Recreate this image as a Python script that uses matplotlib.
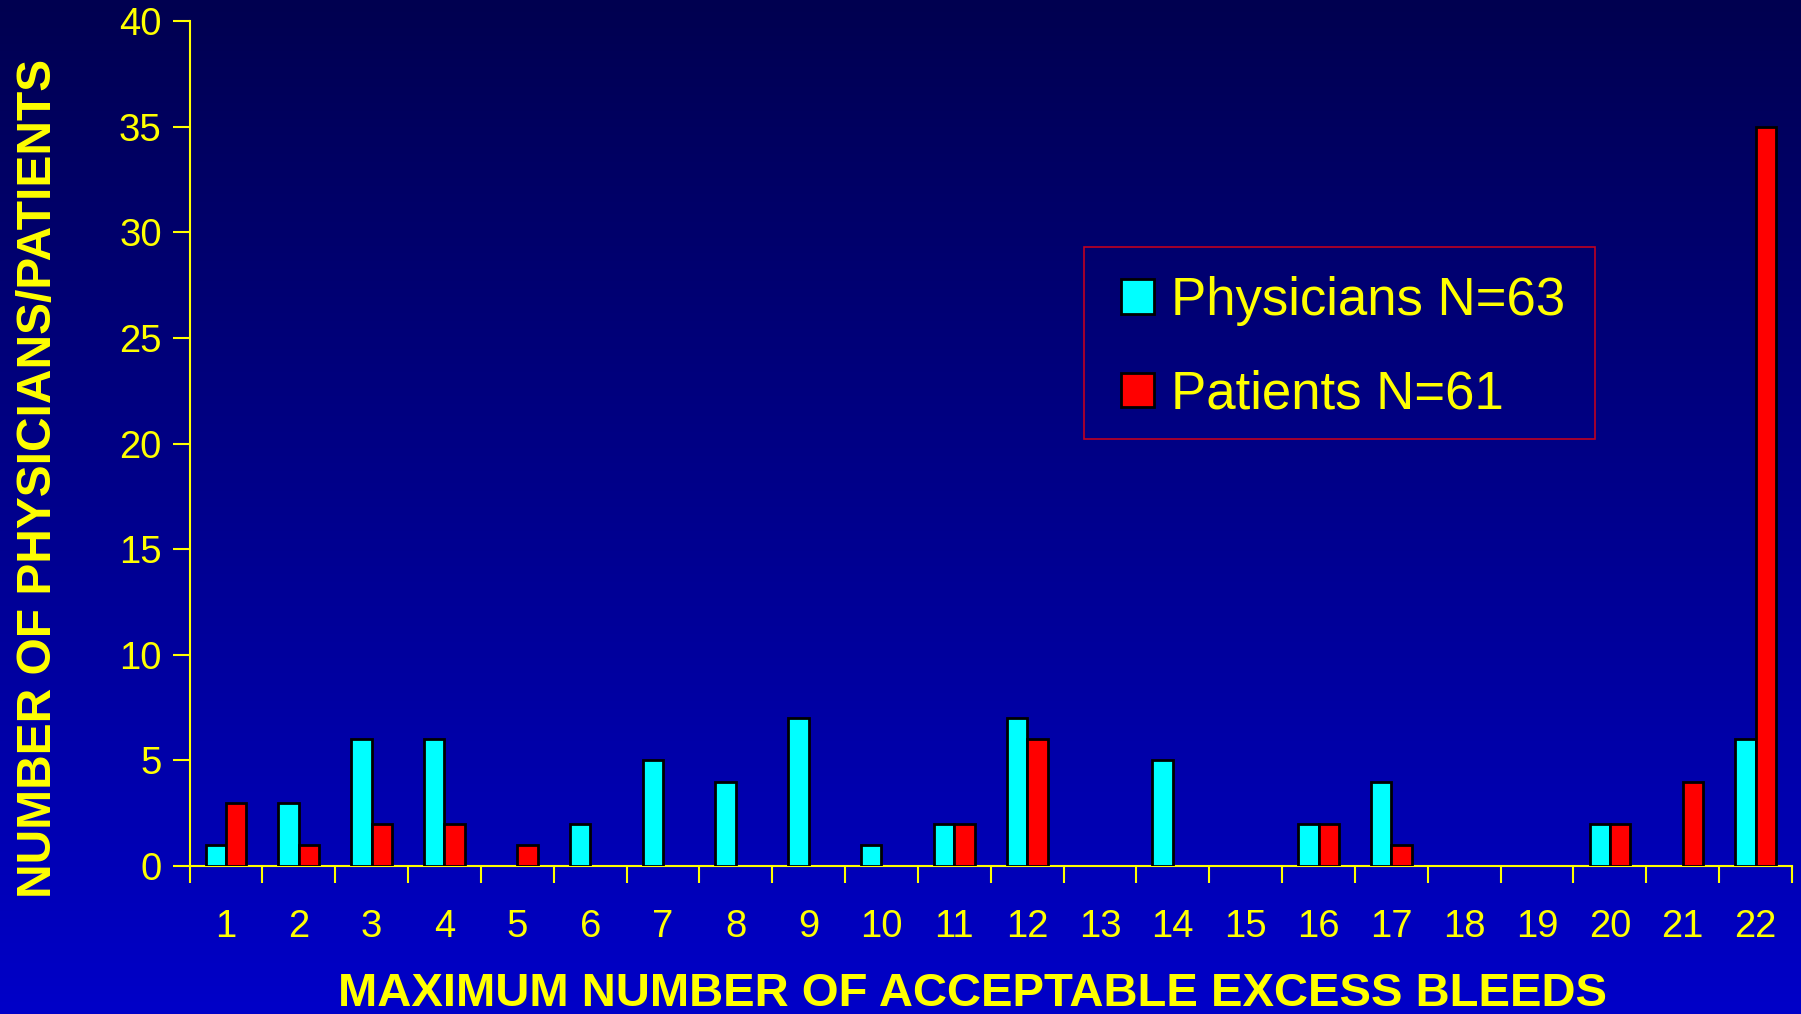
import numpy as np
import matplotlib.pyplot as plt
from matplotlib.patches import Patch, Rectangle

categories = [str(i) for i in range(1, 23)]
physicians = [1, 3, 6, 6, 0, 2, 5, 4, 7, 1, 2, 7, 0, 5, 0, 2, 4, 0, 0, 2, 0, 6]
patients = [3, 1, 2, 2, 1, 0, 0, 0, 0, 0, 2, 6, 0, 0, 0, 2, 1, 0, 0, 2, 4, 35]
y_ticks = [0, 5, 10, 15, 20, 25, 30, 35, 40]

YEL = '#FFFF00'
CYAN = '#00FFFF'
RED = '#FF0000'

plt.rcParams['font.family'] = ['Liberation Sans', 'DejaVu Sans']

W, H = 1801, 1014
fig = plt.figure(figsize=(W / 100, H / 100), dpi=100)

# vertical gradient background, dark navy at the top to brighter blue below
bg = fig.add_axes([0, 0, 1, 1], zorder=-10)
grad = np.linspace(0, 1, 256).reshape(-1, 1)
top = np.array([0, 0, 80]) / 255
bot = np.array([0, 0, 200]) / 255
img = top + (bot - top) * grad[..., None]
bg.imshow(img, aspect='auto', extent=[0, 1, 0, 1], origin='upper')
bg.axis('off')

x0, x1 = 189.5, 1792
y0, y1 = 866, 21
ax = fig.add_axes([x0 / W, 1 - y0 / H, (x1 - x0) / W, (y0 - y1) / H])
ax.patch.set_alpha(0)

x = np.arange(len(categories))
bw = 0.28
ec_ph = ['black' if v > 0 else 'none' for v in physicians]
ec_pa = ['black' if v > 0 else 'none' for v in patients]
ax.bar(x - bw / 2, physicians, bw, color=CYAN, edgecolor=ec_ph, linewidth=2, zorder=3)
ax.bar(x + bw / 2, patients, bw, color=RED, edgecolor=ec_pa, linewidth=2, zorder=3)

ax.set_xlim(-0.5, len(categories) - 0.5)
ax.set_ylim(0, 40)
ax.set_yticks(y_ticks)
ax.set_xticks(x)
ax.set_xticklabels(categories)
ax.set_xticks(np.arange(len(categories) + 1) - 0.5, minor=True)

for s in ['top', 'right']:
    ax.spines[s].set_visible(False)
for s in ['left', 'bottom']:
    ax.spines[s].set_color(YEL)
    ax.spines[s].set_linewidth(1.5)

ax.tick_params(axis='y', colors=YEL, labelsize=27.5, length=12, width=1.5, pad=8)
ax.tick_params(axis='x', which='major', length=0, labelsize=27.5, colors=YEL, pad=31)
ax.tick_params(axis='x', which='minor', length=12, width=1.5, colors=YEL)

fig.text(39 / W, 1 - 478 / H, 'NUMBER OF PHYSICIANS/PATIENTS', rotation=90,
         color=YEL, fontsize=34.5, fontweight='bold', ha='center', va='center')
fig.text(972 / W, 1 - 994 / H, 'MAXIMUM NUMBER OF ACCEPTABLE EXCESS BLEEDS',
         color=YEL, fontsize=34, fontweight='bold', ha='center', va='center')

# legend box
fig.patches.append(Rectangle((1084 / W, 1 - 439 / H), (1595 - 1084) / W, (439 - 247) / H,
                             transform=fig.transFigure, facecolor='none',
                             edgecolor='#C00020', linewidth=1.2))
handles = [Patch(facecolor=CYAN, edgecolor='black', linewidth=2),
           Patch(facecolor=RED, edgecolor='black', linewidth=2)]
leg = ax.legend(handles, ['Physicians N=63', 'Patients N=61'],
                loc='upper left', bbox_to_anchor=(1121 / W, 1 - 276 / H),
                bbox_transform=fig.transFigure, fontsize=38,
                handlelength=0.62, handleheight=0.62, handletextpad=0.33,
                labelspacing=0.83, borderpad=0, borderaxespad=0,
                frameon=False)
for t in leg.get_texts():
    t.set_color(YEL)

fig.savefig('out.png', dpi=100)
